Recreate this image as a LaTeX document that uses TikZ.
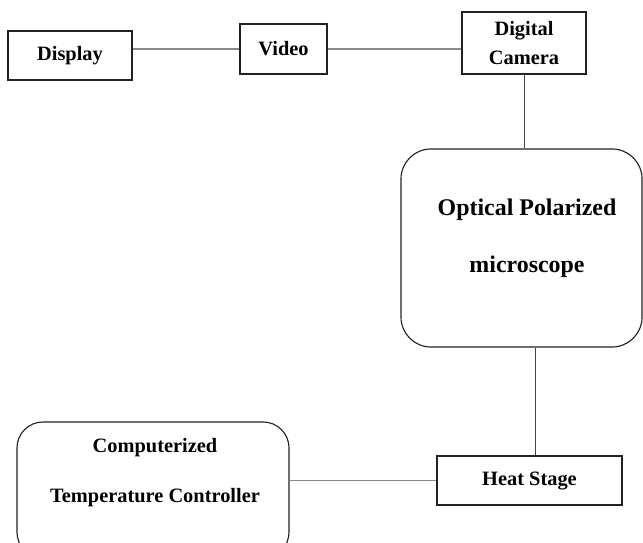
\documentclass[tikz,border=0pt]{standalone}
\usepackage{fontspec}
\setmainfont{Liberation Serif}
\usetikzlibrary{positioning}
\definecolor{edgeink}{HTML}{222222}
\definecolor{wiregray}{HTML}{8A8A8A}
\definecolor{dropink}{HTML}{444444}
\tikzset{
    box/.style={rectangle, draw=edgeink, line width=0.8pt, fill=white, align=center,
        font=\bfseries\fontsize{14.5}{19}\selectfont, inner sep=0pt},
    rbox/.style={box, rounded corners=#1},
    lbl/.style={align=center, inner sep=0pt},
    wire/.style={draw=wiregray, line width=0.9pt},
    drop/.style={draw=dropink, line width=0.7pt},
}
\begin{document}
\begin{tikzpicture}[x=0.025cm, y=-0.025cm]

\useasboundingbox (0,0) rectangle (643,543);
\clip (0,0) rectangle (643,543);

% Imaging chain
\node[box, minimum width=31mm, minimum height=12.25mm] (disp) at (70, 55.5) {Display};
\node[box, minimum width=21.75mm, minimum height=12.5mm] (video) at (283.5, 49) {Video};
\node[box, minimum width=31mm, minimum height=15.5mm] (cam) at (524, 43) {Digital\\[1.2pt]Camera};

% Microscope
\node[rbox=7.5mm, minimum width=60.25mm, minimum height=49.5mm] (scope) at (521.5, 248) {};
\node[lbl, font=\bfseries\fontsize{17}{40.5}\selectfont] (scopetxt) at (527, 238) {Optical Polarized\\microscope};

% Stage and controller
\node[box, minimum width=46.25mm, minimum height=12.25mm] (heat) at (529.5, 480.5) {Heat Stage};
\node[rbox=6.5mm, minimum width=68mm, minimum height=34mm] (ctrl) at (153, 490) {};
\node[lbl, font=\bfseries\fontsize{14.5}{35.5}\selectfont] (ctrltxt) at (155, 473) {Computerized\\Temperature Controller};

% Links
\draw[wire] (disp.east |- video.west) -- (video.west);
\draw[wire] (video.east) -- (video.east -| cam.west);
\draw[drop] (cam.south) -- (cam.south |- scope.north);
\draw[drop] ([xshift=1.6mm]heat.north) -- ([xshift=1.6mm]heat.north |- scope.south);
\draw[wire] (heat.west) -- (heat.west -| ctrl.east);

\end{tikzpicture}
\end{document}
